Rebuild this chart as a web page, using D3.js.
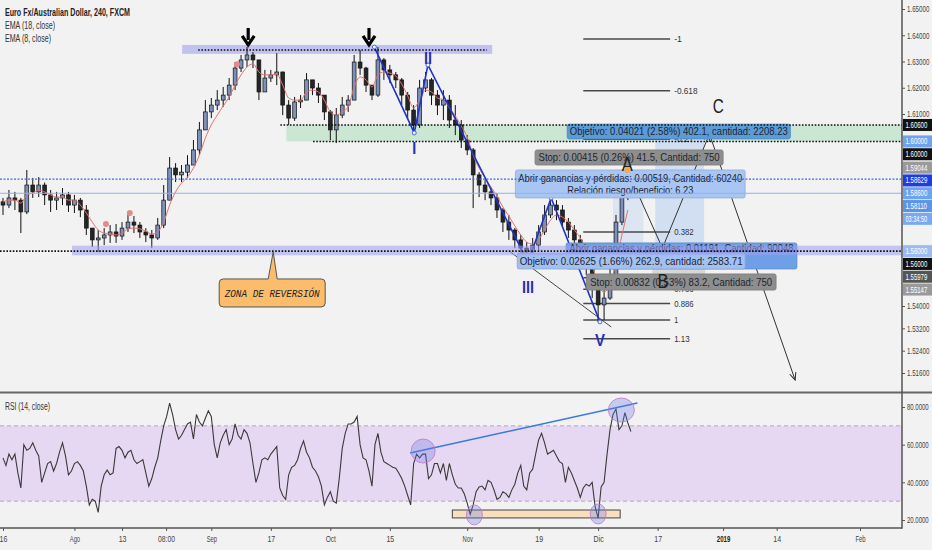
<!DOCTYPE html>
<html><head><meta charset="utf-8">
<script src="https://cdn.jsdelivr.net/npm/d3@7"></script>
<style>body{margin:0;background:#f2f2f2;} svg{display:block;}</style>
</head><body><svg id="c" width="932" height="550"></svg>
<script>
// ---------- DATA (daily bars, index 0 = 16 Jul 2018) ----------
const firstOpen = 1.5780;
const closes = [1.5768,1.5794,1.5786,1.5743,1.5841,1.5816,1.5841,1.5805,1.5786,1.5794,
1.5805,1.5768,1.5786,1.5750,1.5684,1.5641,1.5648,1.5659,1.5670,1.5655,
1.5684,1.5706,1.5695,1.5670,1.5659,1.5648,1.5695,1.5786,1.5903,1.5878,
1.5888,1.5914,1.5969,1.6042,1.6108,1.6134,1.6153,1.6172,1.6210,1.6275,
1.6306,1.6325,1.6306,1.6184,1.6237,1.6249,1.6260,1.6134,1.6085,1.6146,
1.6153,1.6230,1.6199,1.6172,1.6108,1.6042,1.6096,1.6134,1.6153,1.6298,
1.6275,1.6210,1.6172,1.6306,1.6268,1.6249,1.6230,1.6172,1.6115,1.6060,
1.6199,1.6230,1.6172,1.6134,1.6153,1.6078,1.6060,1.6005,1.5969,1.5878,
1.5841,1.5816,1.5794,1.5750,1.5706,1.5677,1.5641,1.5611,1.5597,1.5622,
1.5670,1.5732,1.5768,1.5750,1.5706,1.5677,1.5641,1.5604,1.5538,1.5477,
1.5404,1.5429,1.5513,1.5706,1.5805,1.5811];
const highs = [1.5794,1.5823,1.5816,1.5794,1.5896,1.5867,1.5870,1.5850,1.5823,1.5816,
1.5830,1.5816,1.5805,1.5794,1.5768,1.5684,1.5677,1.5684,1.5695,1.5699,
1.5706,1.5739,1.5728,1.5706,1.5684,1.5677,1.5721,1.5841,1.5943,1.5921,
1.5914,1.5950,1.6005,1.6071,1.6153,1.6161,1.6191,1.6203,1.6237,1.6298,
1.6325,1.6355,1.6336,1.6306,1.6268,1.6268,1.6332,1.6262,1.6153,1.6165,
1.6172,1.6256,1.6230,1.6218,1.6172,1.6115,1.6123,1.6165,1.6172,1.6325,
1.6344,1.6280,1.6210,1.6355,1.6313,1.6287,1.6260,1.6237,1.6184,1.6134,
1.6230,1.6260,1.6237,1.6191,1.6191,1.6172,1.6134,1.6078,1.6023,1.5976,
1.5888,1.5859,1.5830,1.5812,1.5757,1.5732,1.5684,1.5659,1.5633,1.5648,
1.5695,1.5768,1.5797,1.5786,1.5768,1.5721,1.5695,1.5659,1.5622,1.5560,
1.5477,1.5458,1.5538,1.5732,1.5848,1.5896];
const lows = [1.5732,1.5757,1.5750,1.5666,1.5735,1.5794,1.5797,1.5768,1.5743,1.5750,
1.5768,1.5743,1.5739,1.5724,1.5659,1.5615,1.5597,1.5622,1.5630,1.5630,
1.5641,1.5670,1.5666,1.5648,1.5633,1.5611,1.5641,1.5684,1.5786,1.5852,
1.5852,1.5867,1.5914,1.5950,1.6042,1.6085,1.6115,1.6127,1.6153,1.6191,
1.6260,1.6279,1.6275,1.6153,1.6191,1.6222,1.6210,1.6096,1.6060,1.6075,
1.6123,1.6153,1.6172,1.6142,1.6078,1.6005,1.5994,1.6085,1.6108,1.6153,
1.6249,1.6184,1.6153,1.6165,1.6230,1.6218,1.6199,1.6134,1.6085,1.6038,
1.6049,1.6184,1.6134,1.6096,1.6078,1.6049,1.6023,1.5976,1.5950,1.5757,
1.5797,1.5786,1.5768,1.5721,1.5670,1.5641,1.5611,1.5586,1.5560,1.5575,
1.5604,1.5659,1.5721,1.5713,1.5684,1.5648,1.5615,1.5575,1.5513,1.5429,
1.5343,1.5350,1.5422,1.5495,1.5695,1.5786];
const ema18 = [1.5779,1.5786,1.5786,1.5775,1.5805,1.5812,1.5823,1.5816,1.5805,1.5797,
1.5797,1.5786,1.5786,1.5768,1.5739,1.5706,1.5677,1.5666,1.5662,1.5659,
1.5666,1.5681,1.5684,1.5681,1.5673,1.5662,1.5670,1.5706,1.5768,1.5816,
1.5848,1.5870,1.5903,1.5950,1.6012,1.6060,1.6096,1.6130,1.6165,1.6210,
1.6249,1.6279,1.6291,1.6260,1.6249,1.6249,1.6252,1.6210,1.6161,1.6153,
1.6153,1.6184,1.6191,1.6184,1.6153,1.6108,1.6096,1.6108,1.6127,1.6203,
1.6241,1.6230,1.6203,1.6249,1.6260,1.6256,1.6245,1.6214,1.6169,1.6123,
1.6153,1.6191,1.6184,1.6161,1.6153,1.6123,1.6093,1.6056,1.6016,1.5950,
1.5903,1.5867,1.5834,1.5801,1.5761,1.5728,1.5692,1.5659,1.5633,1.5626,
1.5641,1.5677,1.5713,1.5732,1.5724,1.5706,1.5677,1.5648,1.5604,1.5549,
1.5477,1.5451,1.5477,1.5560,1.5659,1.5750];
// RSI(14) sampled twice per day
const rsi = [53,49,55,52,55,45,37,60,57,58,61,57,54,40,45,50,51,46,50,56,
61,54,44,46,50,51,49,46,38,28,31,30,24,38,44,46.5,44,45,58,59,
57,53,56,57,52,50,51,52,45,38,42,48,53,62,70,75,82,76,68,63,
65,68,71,72,63,76,72,70,74,78,75,60,53,61,65,68,60,63,71,65,
63,68,66,61,50,40,45,52,53,52,55,57,59,37,33,31,44,48,49,52,
58,62,56,53,48,46,43,38,28,32,35,30,29,42,58,66,71,71,72,75,
60,53,52,46,38,60,66,56,51,50,49,48,47.5,45,42,38,33,28,50,55,
53,55,55,42,44,50,50,45,50,41,50,44,39,37,37,34,29,23,28,35,
37.5,38,36,41,40,36,31,32,35,34,32,36,39,45,49,38,36,45,47,55,
62.5,66,61,55,56,57,54,51,50,40,48,45,41,37,32,37,39,38,40,27,
21,37.5,40,55,68,76,79,68,70,77,71.5,67];

const priceTicks = [1.65,1.64,1.63,1.62,1.61,1.54,1.532,1.524,1.516];
const rsiTicks = [80,60,40,20];
const timeTickIdx = [0,12,20,27.4,35,45,55,65,78,90,100,110,121,130,144];
const timeTickLabels = ["16","Ago","13","08:00","Sep","17","Oct","15","Nov","19","Dic","17","2019","14","Feb"];

const priceTags = [
 {t:"1.60600",p:1.6060,bg:"#111111",fg:"#fff"},
 {t:"1.60000",p:1.6000,bg:"#6fa3ee",fg:"#fff"},
 {t:"1.60000",p:1.6000,bg:"#111111",fg:"#fff"},
 {t:"1.59044",p:1.59044,bg:"#9a9a9a",fg:"#fff"},
 {t:"1.58629",p:1.58629,bg:"#1d3de0",fg:"#fff"},
 {t:"1.58600",p:1.5860,bg:"#6fa3ee",fg:"#fff"},
 {t:"1.58110",p:1.5811,bg:"#5b95e8",fg:"#fff"},
 {t:"03:34:50",p:1.5811,bg:"#7aa9ee",fg:"#fff"},
 {t:"1.56000",p:1.5600,bg:"#9dbbf0",fg:"#fff"},
 {t:"1.56000",p:1.5600,bg:"#111111",fg:"#fff"},
 {t:"1.55979",p:1.55979,bg:"#555555",fg:"#fff"},
 {t:"1.55147",p:1.55147,bg:"#9a9a9a",fg:"#fff"}];

// drawings (time index, price)
const topBand = {i0:30.1,i1:82.2,p0:1.6363,p1:1.6329};
const topLine = {i0:32.8,i1:81.3,p:1.6344};
const arrowsDown = [{i:41.2,p:1.6363},{i:61.5,p:1.6363}];
const greenZone = {i0:47.6,p0:1.6060,p1:1.6000,l0:46.6,l1:52.1};
const supportBand = {i0:11.6,p0:1.5620,p1:1.5585,line:1.5600};
const blueDotted = 1.58629, lastPrice = 1.5811;
const wavePts = [[62.4,1.6355],[69.1,1.6031],[71.4,1.6287],[88.2,1.5560],[92.1,1.5794],[100.3,1.5343]];
const waveLabels = [{t:"I",i:69.1,p:1.5976,w:4},{t:"II",i:71.4,p:1.6312,w:8},{t:"III",i:88.2,p:1.5470,w:12},{t:"IV",i:92.1,p:1.5841,w:13},{t:"V",i:100.3,p:1.5278,w:10}];
const channel = [[85.2,1.5598],[102.2,1.5325]];
const fib = {i0:97.5,i1:112.1,p0:1.5868,p1:1.5350};
const fibLevels = [-1,-0.618,-0.27,0.382,0.5,0.618,0.705,0.786,0.886,1,1.13];
const abc = [[104.9,1.5896],[110.8,1.5611],[118.7,1.6027],[133.1,1.5135]];
const abcLabels = [{t:"A",i:104.9,p:1.5918},{t:"B",i:110.9,p:1.5491},{t:"C",i:120.2,p:1.6130}];
const redDots = [[17.3,1.5699],[21.3,1.5739],[39.3,1.6290]];
const shades = [{i0:109.6,i1:117.8,p0:1.6005,p1:1.5622,c:"#c9d9f1"},{i0:102.5,i1:107.6,p0:1.5896,p1:1.5622,c:"#d6e1f1"},{i0:109.1,i1:118.0,p0:1.5538,p1:1.5509,c:"#cfcfcf"}];
const boxes = [
 {i0:94.6,i1:133.4,p0:1.5630,p1:1.5535,c:"#6f9fe6",top:true,lines:[["Abrir ganancias y pérdidas: 0.01191, Cantidad: 90048",224]]},
 {i0:94.8,i1:132.3,p0:1.6063,p1:1.6009,c:"#5b9bd8",lines:[["Objetivo: 0.04021 (2.58%) 402.1, cantidad: 2208.23",218]]},
 {i0:89.4,i1:121.0,p0:1.5969,p1:1.5914,c:"#8e8e8e",lines:[["Stop: 0.00415 (0.26%) 41.5, Cantidad: 750",181]]},
 {i0:86.1,i1:124.7,p0:1.5896,p1:1.5794,c:"#a9c6f2",lines:[["Abrir ganancias y pérdidas: 0.00519, Cantidad: 60240",224],["Relación riesgo/beneficio: 6.23",126]]},
 {i0:86.4,i1:124.7,p0:1.5593,p1:1.5535,c:"#a3c1f0",lines:[["Objetivo: 0.02625 (1.66%) 262.9, cantidad: 2583.71",223]]},
 {i0:98.0,i1:129.9,p0:1.5517,p1:1.5458,c:"#8e8e8e",lines:[["Stop: 0.00832 (0.53%) 83.2, Cantidad: 750",182]]}];
const zonaAnchor = {i:45.4,p:1.5597};
const rsiTrend = [[68.4,55.6],[106.6,82.1]];
const rsiCircles = [{i:70.6,v:56.6,rx:12,ry:12},{i:103.9,v:78.4,rx:13,ry:12},{i:79.2,v:22.7,rx:8,ry:10},{i:100,v:23.2,rx:8,ry:10}];
const rsiRect = {i0:75.5,i1:103.7,v0:25.3,v1:21.1};

// ---------- SCALES ----------
const R = 902;
const x = d3.scaleLinear().domain([0,144]).range([3,860]);
const y = d3.scaleLinear().domain([1.516,1.54,1.61,1.65]).range([373,306,114,9]);
const yr = d3.scaleLinear().domain([20,80]).range([520,407]);
const FONT = "Liberation Sans, Arial, sans-serif";

const svg = d3.select("#c");
svg.append("rect").attr("width",932).attr("height",550).attr("fill","#f2f2f2");
const defs = svg.append("defs");
defs.append("clipPath").attr("id","cp").append("rect").attr("x",0).attr("y",0).attr("width",R).attr("height",391);
defs.append("clipPath").attr("id","cr").append("rect").attr("x",0).attr("y",394).attr("width",R).attr("height",133);
defs.append("marker").attr("id","ah").attr("viewBox","0 0 10 10").attr("refX",9).attr("refY",5)
  .attr("markerWidth",8).attr("markerHeight",8).attr("orient","auto")
  .append("path").attr("d","M0,1 L9,5 L0,9").attr("fill","none").attr("stroke","#333").attr("stroke-width",1.3);

function txt(g,xx,yy,s,o={}){
  const t=g.append("text").attr("x",xx).attr("y",yy).text(s)
    .attr("font-family",o.family||FONT).attr("font-size",o.size||9).attr("fill",o.fill||"#333");
  if(o.weight) t.attr("font-weight",o.weight);
  if(o.anchor) t.attr("text-anchor",o.anchor);
  if(o.italic) t.attr("font-style","italic");
  if(o.w) t.attr("textLength",o.w).attr("lengthAdjust","spacingAndGlyphs");
  return t;
}
// narrow text via horizontal scaling (for right-edge labels)
function ntxt(g,xx,yy,s,o={}){
  const t=g.append("text").attr("transform",`translate(${xx},${yy}) scale(${o.sx||0.72},1)`).text(s)
    .attr("font-family",FONT).attr("font-size",o.size||8.6).attr("fill",o.fill||"#444");
  return t;
}
const dotted = (g,x0,x1,yy,c,w,d)=>g.append("line").attr("x1",x0).attr("x2",x1).attr("y1",yy).attr("y2",yy)
   .attr("stroke",c).attr("stroke-width",w).attr("stroke-dasharray",d);

// ---------- PRICE PANEL ----------
const g = svg.append("g").attr("clip-path","url(#cp)");
g.append("rect").attr("x",x(greenZone.i0)).attr("width",R-x(greenZone.i0)).attr("y",y(greenZone.p0))
  .attr("height",y(greenZone.p1)-y(greenZone.p0)).attr("fill","#cbe7d4");
g.append("rect").attr("x",x(topBand.i0)).attr("width",x(topBand.i1)-x(topBand.i0)).attr("y",y(topBand.p0))
  .attr("height",y(topBand.p1)-y(topBand.p0)).attr("fill","#babaf0").attr("opacity",0.85);
shades.forEach(s=>g.append("rect").attr("x",x(s.i0)).attr("width",x(s.i1)-x(s.i0)).attr("y",y(s.p0))
  .attr("height",y(s.p1)-y(s.p0)).attr("fill",s.c).attr("opacity",0.8));
// fib lines
const fibP = l=>fib.p0+(fib.p1-fib.p0)*l;
fibLevels.forEach(l=>{
  const c = l===0.618?"#2a3fd0":"#4a4a4a";
  g.append("line").attr("x1",x(fib.i0)).attr("x2",x(fib.i1)).attr("y1",y(fibP(l))).attr("y2",y(fibP(l)))
    .attr("stroke",c).attr("stroke-width",1.5);
  txt(g,x(fib.i1)+4,y(fibP(l))+3,String(l),{size:9,fill:l===0.618?"#2a3fd0":"#333",w:String(l).length*3.9});
});
// candles
const cg = g.append("g");
closes.forEach((c,i)=>{
  const o = i?closes[i-1]:firstOpen;
  cg.append("line").attr("x1",x(i)).attr("x2",x(i)).attr("y1",y(highs[i])).attr("y2",y(lows[i]))
    .attr("stroke","#111").attr("stroke-width",1);
  const top=y(Math.max(o,c)), bot=y(Math.min(o,c));
  cg.append("rect").attr("x",x(i)-1.9).attr("width",3.8).attr("y",top).attr("height",Math.max(1,bot-top))
    .attr("fill",c>=o?"#7d91b8":"#262626").attr("stroke","#111").attr("stroke-width",0.7);
});
g.append("path").datum(ema18).attr("fill","none").attr("stroke","#e3736f").attr("stroke-width",1)
  .attr("d",d3.line().x((d,i)=>x(i)).y(d=>y(d)).curve(d3.curveMonotoneX));
redDots.forEach(d=>g.append("circle").attr("cx",x(d[0])).attr("cy",y(d[1])).attr("r",3).attr("fill","#e68a8a"));
// waves
g.append("path").datum(wavePts).attr("fill","none").attr("stroke","#1f34c8").attr("stroke-width",1.6)
  .attr("d",d3.line().x(d=>x(d[0])).y(d=>y(d[1])));
wavePts.forEach(d=>g.append("circle").attr("cx",x(d[0])).attr("cy",y(d[1])).attr("r",2).attr("fill","#f2f2f2").attr("stroke","#4468e0"));
waveLabels.forEach(d=>txt(g,x(d.i),y(d.p)+6,d.t,{size:16,weight:"bold",anchor:"middle",fill:"#1f34b8",w:d.w}));
g.append("path").datum(channel).attr("stroke","#333").attr("stroke-width",0.9).attr("d",d3.line().x(d=>x(d[0])).y(d=>y(d[1])));
// ABC projection
g.append("path").datum(abc.slice(0,3)).attr("fill","none").attr("stroke","#333").attr("stroke-width",1)
  .attr("marker-end","url(#ah)").attr("d",d3.line().x(d=>x(d[0])).y(d=>y(d[1])));
g.append("path").datum(abc.slice(2)).attr("fill","none").attr("stroke","#333").attr("stroke-width",1)
  .attr("marker-end","url(#ah)").attr("d",d3.line().x(d=>x(d[0])).y(d=>y(d[1])));
// position boxes
boxes.forEach(b=>{
  const x0=x(b.i0),x1=x(b.i1),y0=y(b.p0),y1=y(b.p1);
  g.append("rect").attr("x",x0).attr("y",y0).attr("width",x1-x0).attr("height",y1-y0).attr("rx",2)
    .attr("fill",b.c).attr("stroke",d3.color(b.c).darker(0.4)).attr("stroke-width",0.8);
  const cx=(x0+x1)/2, n=b.lines.length, cy=b.top?y0+5.5:(y0+y1)/2;
  b.lines.forEach((l,k)=>txt(g,cx,cy+3.8+(k-(n-1)/2)*12,l[0],{size:10.5,anchor:"middle",fill:"#1f2530",w:l[1]}));
});
abcLabels.forEach(d=>txt(g,x(d.i),y(d.p)+7,d.t,{size:20,anchor:"middle",fill:"#222",w:11}));
g.append("circle").attr("cx",x(abc[0][0])).attr("cy",y(abc[0][1])).attr("r",3).attr("fill","#f5a940");
// horizontal lines on top
g.append("rect").attr("x",x(supportBand.i0)).attr("width",R-x(supportBand.i0)).attr("y",y(supportBand.p0))
  .attr("height",y(supportBand.p1)-y(supportBand.p0)).attr("fill","#9f9ff0").attr("opacity",0.55);
dotted(g,0,R,y(supportBand.line),"#111",1.6,"1.6,1.6");
dotted(g,x(greenZone.l0),R,y(greenZone.p0),"#111",1.6,"1.6,1.6");
dotted(g,x(greenZone.l1),R,y(greenZone.p1),"#111",1.6,"1.6,1.6");
dotted(g,x(topLine.i0),x(topLine.i1),y(topLine.p),"#111",1.6,"1.6,1.6");
dotted(g,0,R,y(blueDotted),"#3d6be0",1.2,"2,1.5");
g.append("line").attr("x1",0).attr("x2",R).attr("y1",y(lastPrice)).attr("y2",y(lastPrice)).attr("stroke","#8fb2f2").attr("stroke-width",1);
// arrows
arrowsDown.forEach(a=>{
  const ax=x(a.i), ay=y(a.p);
  g.append("line").attr("x1",ax).attr("x2",ax).attr("y1",ay-17).attr("y2",ay-5).attr("stroke","#000").attr("stroke-width",3.2);
  g.append("path").attr("d",`M${ax-6},${ay-9} L${ax},${ay} L${ax+6},${ay-9}`).attr("fill","none").attr("stroke","#000").attr("stroke-width",3.2);
});
// zona callout
{
  const ax=x(zonaAnchor.i), ay=y(zonaAnchor.p);
  g.append("path").attr("d",`M${ax-54},${ay+31} Q${ax-54},${ay+27} ${ax-50},${ay+27} L${ax-5},${ay+27} L${ax},${ay} L${ax+4},${ay+27} L${ax+48},${ay+27} Q${ax+52},${ay+27} ${ax+52},${ay+31} L${ax+52},${ay+51} Q${ax+52},${ay+55} ${ax+48},${ay+55} L${ax-50},${ay+55} Q${ax-54},${ay+55} ${ax-54},${ay+51} Z`)
    .attr("fill","#fbbd6c").attr("stroke","#555").attr("stroke-width",1);
  txt(g,ax-1,ay+45,"ZONA DE REVERSIÓN",{family:"Liberation Mono, DejaVu Sans Mono, monospace",size:10.5,italic:true,anchor:"middle",fill:"#222",w:95});
}
// legend
txt(svg,5,16,"Euro Fx/Australian Dollar, 240, FXCM",{size:10.5,weight:"bold",fill:"#222",w:125});
txt(svg,5,29,"EMA (18, close)",{size:10.5,fill:"#333",w:50});
txt(svg,5,42,"EMA (8, close)",{size:10.5,fill:"#333",w:46});

// ---------- RSI PANEL ----------
const gr = svg.append("g").attr("clip-path","url(#cr)");
gr.append("rect").attr("x",0).attr("width",R).attr("y",yr(70)).attr("height",yr(30)-yr(70)).attr("fill","#e6d8f2");
[70,30].forEach(v=>dotted(gr,0,R,yr(v),"#b3a6c3",1,"4,3"));
gr.append("rect").attr("x",x(rsiRect.i0)).attr("width",x(rsiRect.i1)-x(rsiRect.i0)).attr("y",yr(rsiRect.v0))
  .attr("height",yr(rsiRect.v1)-yr(rsiRect.v0)).attr("fill","#f9dfbd").attr("stroke","#444").attr("stroke-width",1);
gr.append("path").datum(rsi).attr("fill","none").attr("stroke","#3a3a3a").attr("stroke-width",1.1)
  .attr("d",d3.line().x((d,k)=>x(k/2)).y(d=>yr(d)));
gr.append("path").datum(rsiTrend).attr("stroke","#3a78e0").attr("stroke-width",1.5).attr("d",d3.line().x(d=>x(d[0])).y(d=>yr(d[1])));
rsiCircles.forEach(c=>gr.append("ellipse").attr("cx",x(c.i)).attr("cy",yr(c.v)).attr("rx",c.rx).attr("ry",c.ry)
  .attr("fill","rgba(110,120,230,0.32)").attr("stroke","rgba(190,120,200,0.8)").attr("stroke-width",1));
txt(svg,5,410,"RSI (14, close)",{size:10.5,fill:"#333",w:45});

// ---------- FRAME & AXES ----------
svg.append("line").attr("x1",0).attr("x2",932).attr("y1",392.5).attr("y2",392.5).attr("stroke","#666").attr("stroke-width",2);
svg.append("line").attr("x1",0).attr("x2",R).attr("y1",528).attr("y2",528).attr("stroke","#555").attr("stroke-width",1.5);
svg.append("line").attr("x1",R).attr("x2",R).attr("y1",0).attr("y2",528.7).attr("stroke","#555").attr("stroke-width",1.5);

function styleAxis(ax){
  ax.select(".domain").remove();
  ax.selectAll(".tick line").attr("stroke","#555");
  ax.selectAll(".tick text").attr("font-family",FONT).attr("font-size",8.6).attr("fill","#444");
}
function squeezeRight(ax, sx){
  ax.selectAll(".tick text").each(function(){
    const t=d3.select(this); const dx=+t.attr("x");
    t.attr("x",0).attr("transform",`translate(${dx},0) scale(${sx},1)`);
  });
}
const ay = svg.append("g").attr("transform",`translate(${R},0)`)
  .call(d3.axisRight(y).tickValues(priceTicks).tickFormat(d3.format(".5f")).tickSize(3).tickPadding(2));
styleAxis(ay); squeezeRight(ay,0.72);
const ar = svg.append("g").attr("transform",`translate(${R},0)`)
  .call(d3.axisRight(yr).tickValues(rsiTicks).tickFormat(d3.format(".4f")).tickSize(3).tickPadding(2));
styleAxis(ar); squeezeRight(ar,0.7);
const axb = svg.append("g").attr("transform","translate(0,528)")
  .call(d3.axisBottom(x).tickValues(timeTickIdx).tickFormat((d,i)=>timeTickLabels[i]).tickSize(3).tickPadding(5));
styleAxis(axb);
axb.selectAll(".tick text").each(function(d,i){
  const s=timeTickLabels[i]; const t=d3.select(this);
  t.attr("textLength",s.length*3.4+(s.length<3?1:0)).attr("lengthAdjust","spacingAndGlyphs");
  if(s==="2019") t.attr("font-weight","bold").attr("fill","#222");
});

// price tags with stacking
const TH=12.8;
let lastY=-1e9;
priceTags.map(t=>({...t,ny:y(t.p)})).forEach(t=>{
  let cy=Math.max(t.ny,lastY+TH); lastY=cy;
  svg.append("rect").attr("x",R+1).attr("y",cy-TH/2+0.4).attr("width",931-R).attr("height",TH-0.8).attr("fill",t.bg);
  ntxt(svg,R+3.5,cy+3,t.t,{size:8.4,fill:t.fg,sx:t.t.length===8?0.66:0.72});
});
</script></body></html>
